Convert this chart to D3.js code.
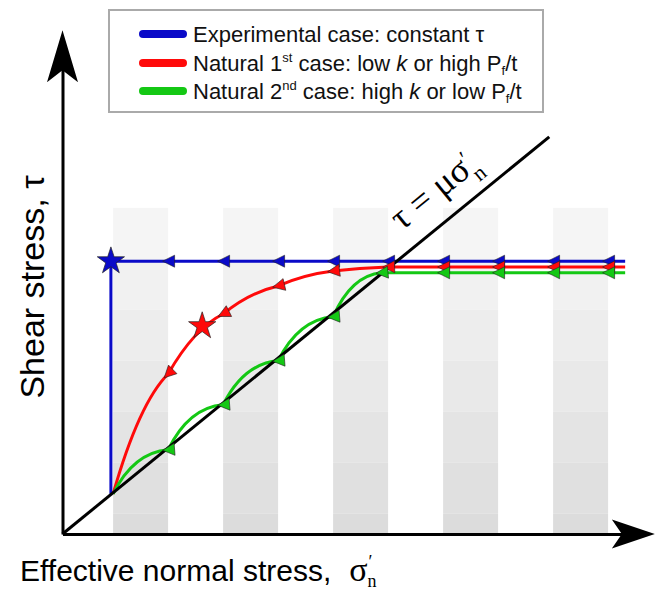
<!DOCTYPE html>
<html>
<head>
<meta charset="utf-8">
<script src="https://cdn.jsdelivr.net/npm/d3@7"></script>
<style>
body { margin: 0; background: #fff; }
svg { display: block; font-family: "Liberation Sans", Arial, sans-serif; }
</style>
</head>
<body>
<div id="chart"></div>
<script>
// schematic units: effective normal stress (sigma') and shear stress (tau)
var bands = [[0.92, 1.92], [2.92, 3.92], [4.92, 5.92], [6.92, 7.92], [8.92, 9.92]];
var bandTop = 5.93;
var mu = 0.816;
var lineEnd = 8.85;
var flatEnd = 10.23;

var blueSigma = [0.88, 0.88, flatEnd];
var blueTau = [0.73, 4.96, 4.96];
var blueArrows = [1.92, 2.92, 3.92, 4.92, 5.92, 6.92, 7.92, 8.92, 9.92];

var redSigma = [0.92, 1.92, 2.92, 3.92, 4.92, 5.92];
var redTau = [0.73, 2.91, 4.0, 4.51, 4.78, 4.855];
var greenSigma = [0.92, 1.92, 2.92, 3.92, 4.92, 5.8];
var greenTau = [0.73, 1.53, 2.35, 3.15, 3.95, 4.75];
var flatArrows = [6.92, 7.92, 8.92, 9.92];

var blueStar = [0.88, 4.96];
var redStar = [2.54, 3.78];

var legendLabels = [
	[{t: "Experimental case: constant τ"}],
	[{t: "Natural 1"}, {t: "st", sup: 1}, {t: " case: low "}, {t: "k", it: 1}, {t: " or high P"}, {t: "f", sub: 1}, {t: "/t"}],
	[{t: "Natural 2"}, {t: "nd", sup: 1}, {t: " case: high "}, {t: "k", it: 1}, {t: " or low P"}, {t: "f", sub: 1}, {t: "/t"}]
];

var width = 658, height = 594;
var blue = "#0a0ac8", red = "#ff0a0a", green = "#14c814";

var svg = d3.select("#chart").append("svg").attr("width", width).attr("height", height);

var x = d3.scaleLinear().domain([0, 10]).range([62.5, 612.5]);
var y = d3.scaleLinear().domain([0, 9]).range([534, 39]);

// shaded bands, stepped from light at top to darker at bottom
var steps = d3.range(7);
var stepH = 0.927;
var shade = d3.interpolateRgb("#f5f5f5", "#dcdcdc");
bands.forEach(function (b) {
	svg.append("g").selectAll("rect")
		.data(steps)
		.enter().append("rect")
		.attr("x", x(b[0]))
		.attr("width", x(b[1]) - x(b[0]))
		.attr("y", function (i) { return y(bandTop - i * stepH); })
		.attr("height", function (i) {
			var lo = Math.max(0, bandTop - (i + 1) * stepH);
			return y(lo) - y(bandTop - i * stepH);
		})
		.style("fill", function (i) { return shade(i / 6); });
});

// curves: each segment a bezier that bulges above its chord
var markers = [];

function curve(sig, tau, p, color) {
	var ctx = d3.path();
	var pts = sig.map(function (s, i) { return [x(s), y(tau[i])]; });
	ctx.moveTo(pts[0][0], pts[0][1]);
	for (var i = 1; i < pts.length; i++) {
		var A = pts[i - 1], B = pts[i];
		var w = B[0] - A[0], h = B[1] - A[1];
		var c2 = [A[0] + p[2] * w, A[1] + p[3] * h];
		ctx.bezierCurveTo(A[0] + p[0] * w, A[1] + p[1] * h, c2[0], c2[1], B[0], B[1]);
		markers.push({x: B[0], y: B[1], a: Math.atan2(B[1] - c2[1], B[0] - c2[0]) * 180 / Math.PI, c: color});
	}
	var last = pts[pts.length - 1];
	ctx.lineTo(x(flatEnd), last[1]);
	flatArrows.forEach(function (s) {
		markers.push({x: x(s), y: last[1], a: 0, c: color});
	});
	return ctx.toString();
}

var bluePath = d3.line()
	.x(function (d, i) { return x(blueSigma[i]); })
	.y(function (d, i) { return y(blueTau[i]); });
blueArrows.forEach(function (s) {
	markers.push({x: x(s), y: y(blueTau[1]), a: 0, c: blue});
});

svg.append("path").attr("d", bluePath(blueSigma))
	.style("fill", "none").style("stroke", blue).style("stroke-width", 3);
svg.append("path").attr("d", curve(redSigma, redTau, [0.33, 0.53, 0.67, 0.85], red))
	.style("fill", "none").style("stroke", red).style("stroke-width", 3);
svg.append("path").attr("d", curve(greenSigma, greenTau, [0.2, 0.5, 0.5, 0.95], green))
	.style("fill", "none").style("stroke", green).style("stroke-width", 3);

// failure line tau = mu * sigma'
svg.append("line")
	.attr("x1", x(0)).attr("y1", y(0))
	.attr("x2", x(lineEnd)).attr("y2", y(mu * lineEnd))
	.style("stroke", "#000").style("stroke-width", 3);

svg.append("g").selectAll("path")
	.data(markers)
	.enter().append("path")
	.attr("d", "M-5.5,0L6.5,-6L6.5,6Z")
	.attr("transform", function (d) { return "translate(" + d.x + "," + d.y + ") rotate(" + d.a + ")"; })
	.style("fill", function (d) { return d.c; })
	.style("stroke", "#222").style("stroke-width", 0.6);

var star = d3.symbol().type(d3.symbolStar).size(230);
[[blueStar, blue], [redStar, red]].forEach(function (s) {
	svg.append("path").attr("d", star)
		.attr("transform", "translate(" + x(s[0][0]) + "," + y(s[0][1]) + ")")
		.style("fill", s[1]).style("stroke", "#222").style("stroke-width", 0.7);
});

// label along the failure line
var ang = Math.atan2(y(0) - y(mu), x(1) - x(0)) * 180 / Math.PI;
var lab = svg.append("text")
	.attr("transform", "translate(" + x(6.4) + "," + y(mu * 6.4) + ") rotate(" + (-ang) + ")")
	.attr("y", -20)
	.style("font-family", "'Liberation Serif', 'DejaVu Serif', serif")
	.style("font-size", "36px");
lab.append("tspan").text("τ = μσ");
lab.append("tspan").attr("dx", 1).attr("dy", -10).style("font-size", "22px").text("′");
lab.append("tspan").attr("dx", -6).attr("dy", 21).style("font-size", "22px").text("n");

// axes
var xAxisScale = d3.scaleLinear().domain([0, 10.3]).range([x(0), x(10.3)]);
var yAxisScale = d3.scaleLinear().domain([0, 8.6]).range([y(0), y(8.6)]);
svg.append("g").attr("transform", "translate(0," + y(0) + ")")
	.call(d3.axisBottom(xAxisScale).tickValues([]).tickSizeOuter(0));
svg.append("g").attr("transform", "translate(" + x(0) + ",0)")
	.call(d3.axisLeft(yAxisScale).tickValues([]).tickSizeOuter(0));
svg.selectAll(".domain").style("stroke", "#000").style("stroke-width", 3);

function arrowHead(tx, ty, rot, L, hw, notch) {
	svg.append("path")
		.attr("d", "M0,0L" + (-L) + "," + (-hw) + "L" + (-notch) + ",0L" + (-L) + "," + hw + "Z")
		.attr("transform", "translate(" + tx + "," + ty + ") rotate(" + rot + ")")
		.style("fill", "#000");
}
arrowHead(x(10.77), y(0), 0, 43, 14.5, 33);
arrowHead(x(0), y(9.16), -90, 52, 15.5, 40);

svg.append("text")
	.attr("transform", "translate(44,287) rotate(-90)")
	.attr("text-anchor", "middle")
	.style("font-size", "34px")
	.text("Shear stress,  τ");

var xl = svg.append("text").attr("x", 20).attr("y", 581).style("font-size", "30px");
xl.append("tspan").text("Effective normal stress,");
xl.append("tspan").attr("dx", 18).style("font-family", "'Liberation Serif', serif").style("font-size", "34px").text("σ");
xl.append("tspan").attr("dx", 1).attr("dy", -13).style("font-size", "18px").style("font-family", "'Liberation Serif', serif").text("′");
xl.append("tspan").attr("dx", -5).attr("dy", 19).style("font-size", "18px").style("font-family", "'Liberation Serif', serif").text("n");

// legend
var lg = svg.append("g");
lg.append("rect").attr("x", 109).attr("y", 10).attr("width", 434).attr("height", 102)
	.style("fill", "#fff").style("stroke", "#aaa").style("stroke-width", 2);
var legY = [34, 63, 91];
[blue, red, green].forEach(function (c, i) {
	lg.append("line").attr("x1", 143).attr("x2", 183).attr("y1", legY[i]).attr("y2", legY[i])
		.style("stroke", c).style("stroke-width", 8).style("stroke-linecap", "round");
	var t = lg.append("text").attr("x", 193).attr("y", legY[i] + 8).style("font-size", "22px").style("fill", "#111");
	legendLabels[i].forEach(function (p, j) {
		var s = t.append("tspan").text(p.t);
		var prev = legendLabels[i][j - 1];
		if (p.it) s.style("font-style", "italic");
		if (p.sup) s.attr("dy", -9).style("font-size", "13px");
		else if (p.sub) s.attr("dy", 4).style("font-size", "13px");
		else if (prev && prev.sup) s.attr("dy", 9);
		else if (prev && prev.sub) s.attr("dy", -4);
	});
});
</script>
</body>
</html>
